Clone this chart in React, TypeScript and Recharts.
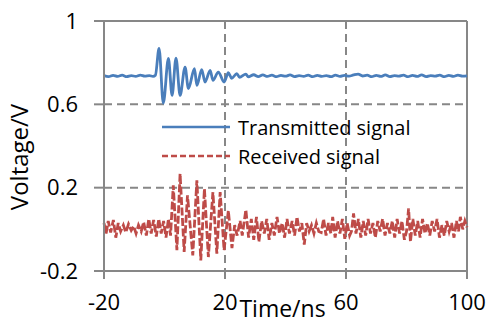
import React from 'react';
import {
  LineChart,
  Line,
  XAxis,
  YAxis,
  CartesianGrid,
  ReferenceLine,
  Legend,
  Label
} from 'recharts';

const FONT = '"Open Sans", "Noto Sans", sans-serif';
const AXIS = '#878787';

// x ticks / y ticks
const xTicks = [-20, 20, 60, 100];
const yTicks = [-0.2, 0.2, 0.6, 1];

// Transmitted signal: time (ns) and voltage (V)
const txTime = [
  -20, -18.5, -17, -15.5, -14, -12.5, -11, -9.5, -8, -6.5, -5, -3.8, -3.0,
  -1.8, -0.4, 1.3, 2.5, 3.8, 5.15, 6.8, 7.9, 9.9, 10.7, 12.3, 13.4, 15.1, 16, 17.8, 19.7,
  21.1, 22.2, 23.9, 24.8, 26.9, 27.7, 29.5, 31, 32.5, 34, 35.5, 37, 38.5, 40, 41.5,
  43, 44.5, 46, 47.5, 49, 50.5, 52, 53.5, 55, 56.5, 58, 59.5, 61, 62.5, 64, 65.5,
  67, 68.5, 70, 71.5, 73, 74.5, 76, 77.5, 79, 80.5, 82, 83.5, 85, 86.5, 88, 89.5,
  91, 92.5, 94, 95.5, 97, 98.5, 100
];
const txVolt = [
  0.738, 0.733, 0.739, 0.734, 0.740, 0.733, 0.738, 0.734, 0.740, 0.735, 0.738, 0.734, 0.740,
  0.868, 0.606, 0.820, 0.643, 0.822, 0.643, 0.779, 0.676, 0.771, 0.691, 0.767, 0.707, 0.763, 0.715, 0.755, 0.707,
  0.752, 0.725, 0.747, 0.730, 0.745, 0.732, 0.742, 0.733, 0.741, 0.734, 0.740, 0.733, 0.739, 0.735, 0.741,
  0.733, 0.738, 0.734, 0.740, 0.733, 0.739, 0.734, 0.738, 0.733, 0.740, 0.734, 0.739, 0.735, 0.741, 0.745, 0.736,
  0.740, 0.733, 0.739, 0.734, 0.741, 0.733, 0.738, 0.735, 0.740, 0.733, 0.739, 0.734, 0.741, 0.733, 0.738, 0.735,
  0.740, 0.733, 0.739, 0.734, 0.740, 0.735, 0.737
];

// Received signal
const rxTime = [
  -20, -19.3, -18.6, -17.8, -16.9, -16.1, -15.3, -14.5, -13.6, -12.8, -11.9, -11, -10.2, -9.4,
  -8.6, -7.7, -6.9, -6, -5.2, -4.4, -3.6, -2.7, -1.9, -1.1, -0.3, 0.5, 1.3, 2.0,
  2.9, 4.1, 5.15, 6.5, 7.6, 9.35, 10.7, 12, 13.2, 14.5, 16, 17.3, 18.4, 19.7,
  21.1, 22.3, 23.2, 24.0, 25.0, 25.7, 26.9, 27.8, 28.7, 29.5, 30.4, 31.2, 32.1, 33.0,
  33.8, 34.6, 35.5, 36.3, 37.2, 38.0, 38.9, 39.7, 40.5, 41.3, 42.2, 43.0, 43.8, 44.6,
  45.4, 46.2, 47.0, 47.8, 48.6, 49.4, 50.2, 51.0, 51.8, 52.6, 53.4, 54.2, 55.0, 55.6,
  56.4, 57.2, 58.0, 58.8, 59.6, 60.4, 61.2, 61.8, 62.5, 63.3, 64.1, 64.9, 65.7, 66.5,
  67.3, 68.1, 68.9, 69.7, 70.5, 71.3, 72.1, 72.9, 73.7, 74.5, 75.3, 76.1, 76.9, 77.7,
  78.5, 79.3, 80.0, 80.7, 81.3, 82.1, 82.9, 83.7, 84.5, 85.3, 86.1, 86.9, 87.7, 88.5,
  89.3, 90.1, 90.9, 91.7, 92.5, 93.3, 94.1, 94.9, 95.7, 96.5, 97.2, 97.8, 98.6, 99.3, 100
];
const rxVolt = [
  0.03, -0.02, 0.04, -0.015, 0.045, -0.04, 0.03, -0.01, 0.02, -0.015, 0.025, -0.005, 0.015, -0.02,
  0.02, -0.01, 0.035, -0.03, 0.05, -0.02, 0.045, -0.035, 0.05, -0.02, 0.04, -0.04, 0.05, -0.03,
  0.211, -0.1, 0.267, -0.108, 0.163, -0.125, 0.235, -0.149, 0.195, -0.133, 0.179, -0.117, 0.179, -0.1,
  0.09, -0.09, 0.02, -0.03, 0.04, -0.03, 0.094, -0.04, 0.05, -0.05, 0.06, -0.06, 0.04, -0.02,
  0.05, -0.05, 0.03, -0.03, 0.06, -0.02, 0.03, -0.04, 0.05, -0.02, 0.04, -0.03, 0.06, -0.01,
  0.03, -0.073, 0.03, -0.01, 0.02, -0.02, 0.03, -0.01, -0.015, 0.05, -0.03, 0.03, -0.02, 0.06,
  -0.04, 0.04, -0.02, 0.05, -0.045, 0.03, -0.03, -0.01, 0.076, -0.02, 0.05, -0.04, 0.04, -0.03,
  0.05, -0.02, 0.03, -0.04, 0.04, -0.01, 0.05, -0.03, 0.03, -0.02, 0.04, -0.04, 0.05, -0.02,
  0.04, -0.05, -0.01, 0.1, -0.06, 0.05, -0.03, 0.04, -0.04, 0.05, -0.02, 0.03, -0.03, 0.04,
  -0.01, 0.05, -0.04, 0.02, -0.03, 0.04, -0.01, 0.03, -0.04, 0.04, -0.01, 0.06, 0.0, 0.04, 0.01
];

const txData = txTime.map((t, i) => ({ t, v: txVolt[i] }));
const rxData = rxTime.map((t, i) => ({ t, v: rxVolt[i] }));

const legendItems = [
  { name: 'Transmitted signal', color: '#4a7ebb', dash: undefined },
  { name: 'Received signal', color: '#be4b48', dash: '6 3' }
];

const LegendBox = () => (
  <div style={{ fontFamily: FONT, fontSize: 20, color: '#000' }}>
    {legendItems.map((it) => (
      <div key={it.name} style={{ display: 'flex', alignItems: 'center', height: 29 }}>
        <svg width={68} height={4} style={{ display: 'block' }}>
          <line x1={0} y1={2} x2={68} y2={2} stroke={it.color} strokeWidth={2.5} strokeDasharray={it.dash} />
        </svg>
        <span style={{ marginLeft: 8, whiteSpace: 'nowrap' }}>{it.name}</span>
      </div>
    ))}
  </div>
);

export default function App() {
  return (
    <div style={{ position: 'absolute', left: 0, top: 0, width: 489, height: 331, background: '#fff', fontFamily: FONT }}>
      <LineChart width={489} height={331} margin={{ top: 21, right: 22, left: 0, bottom: 0 }}>
        <CartesianGrid
          stroke={AXIS}
          strokeWidth={2}
          strokeDasharray="8 5"
          horizontalValues={[0.2, 0.6]}
          verticalValues={[20, 60]}
        />
        <XAxis
          type="number"
          dataKey="t"
          domain={[-20, 100]}
          ticks={xTicks}
          height={60}
          stroke={AXIS}
          strokeWidth={2}
          tickSize={8}
          tickMargin={15}
          tick={{ fontSize: 22, fill: '#000', fontFamily: FONT }}
          allowDuplicatedCategory={false}
        >
          <Label
            value="Time/ns"
            position="insideBottom"
            offset={14}
            dx={-3}
            style={{ fontSize: 23, fill: '#000', fontFamily: FONT }}
          />
        </XAxis>
        <YAxis
          type="number"
          domain={[-0.2, 1]}
          ticks={yTicks}
          width={104}
          stroke={AXIS}
          strokeWidth={2}
          tickSize={10}
          tickMargin={16}
          tick={{ fontSize: 22, fill: '#000', fontFamily: FONT }}
          tickFormatter={(v: number) => String(v)}
        >
          <Label
            content={() => (
              <text
                x={28}
                y={157}
                transform="rotate(-90 28 157)"
                textAnchor="middle"
                fontSize={24}
                fill="#000"
                fontFamily={FONT}
              >
                Voltage/V
              </text>
            )}
          />
        </YAxis>
        <ReferenceLine y={1} stroke={AXIS} strokeWidth={2} />
        <ReferenceLine x={100} stroke={AXIS} strokeWidth={2} />
        <Legend
          layout="vertical"
          align="center"
          verticalAlign="middle"
          wrapperStyle={{ left: 162, top: 112.5, width: 'auto' }}
          content={() => <LegendBox />}
        />
        <Line
          data={rxData}
          dataKey="v"
          name="Received signal"
          type="linear"
          stroke="#be4b48"
          strokeWidth={2.8}
          strokeDasharray="8 2.5"
          dot={false}
          activeDot={false}
          isAnimationActive={false}
        />
        <Line
          data={txData}
          dataKey="v"
          name="Transmitted signal"
          type="monotone"
          stroke="#4a7ebb"
          strokeWidth={2.8}
          dot={false}
          activeDot={false}
          isAnimationActive={false}
        />
      </LineChart>
    </div>
  );
}
